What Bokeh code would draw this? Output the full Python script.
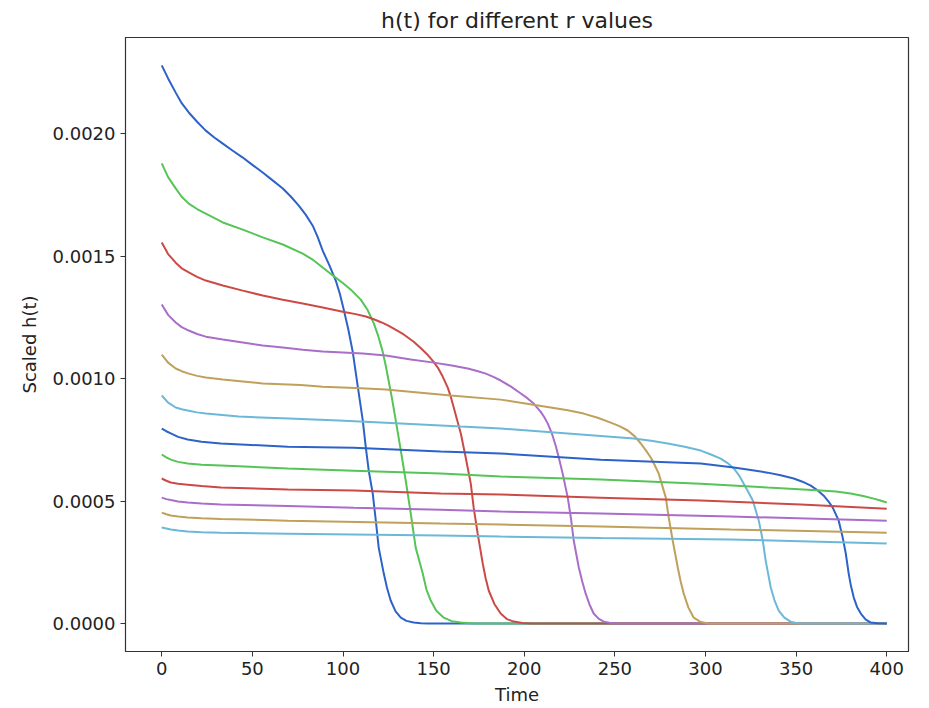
from bokeh.plotting import figure
from bokeh.models import Range1d, FixedTicker, PrintfTickFormatter
from bokeh.embed import file_html
from bokeh.resources import INLINE

# Curve data (time, scaled h)
t1 = [0, 3.5, 7.7, 11, 14.9, 19.5, 24.3, 29, 33.7, 39, 44.7, 50, 55.7, 61, 66.8, 71.3, 75.6, 79.5, 83.3, 86, 88.8, 92.5, 96.0, 98.3, 100.4, 103, 105.4, 108.1, 110.9, 112.6, 114.2, 116.4, 118.1, 119.7, 122.5, 124.3, 126.3, 129, 131.9, 135, 139.0, 143, 146.8, 400]
h1 = [0.002278, 0.002225, 0.002167, 0.002124, 0.002086, 0.002048, 0.002012, 0.001984, 0.001959, 0.001931, 0.001902, 0.001872, 0.001841, 0.001810, 0.001776, 0.001742, 0.001706, 0.001668, 0.001624, 0.001578, 0.001522, 0.001462, 0.001400, 0.001345, 0.001282, 0.001198, 0.001108, 0.000970, 0.000829, 0.000718, 0.000624, 0.000531, 0.000420, 0.000310, 0.000204, 0.000145, 0.000094, 0.000050, 0.000024, 0.000011, 0.000004, 0.000001, 0.0, 0.0]

t2 = [0, 3.5, 7.7, 11, 14.9, 19.5, 24.3, 33.7, 44.7, 55.7, 66.8, 77.8, 83.5, 88.8, 94, 99.9, 105, 109.8, 113.5, 117.0, 119.5, 121.9, 123.7, 125.2, 127.2, 129.1, 131.9, 134.6, 137.4, 140.1, 144.0, 146, 148.4, 151.5, 155.6, 160, 165.0, 172.1, 400]
h2 = [0.001878, 0.001822, 0.001776, 0.001742, 0.001714, 0.001692, 0.001673, 0.001637, 0.001608, 0.001576, 0.001547, 0.001510, 0.001484, 0.001453, 0.001423, 0.001390, 0.001358, 0.001322, 0.001281, 0.001225, 0.001172, 0.001110, 0.001048, 0.000990, 0.000912, 0.000829, 0.000706, 0.000584, 0.000449, 0.000310, 0.000204, 0.000140, 0.000094, 0.000052, 0.000024, 0.000010, 0.000004, 0.0, 0.0]

t3 = [0, 3.5, 7.7, 11, 14.9, 19.5, 24.3, 33.7, 44.7, 55.7, 66.8, 77.8, 88.8, 99.9, 107, 112.6, 117, 121, 124.5, 128.0, 133.5, 139.0, 143, 146.8, 149.8, 152.3, 155, 157.8, 159.5, 161.1, 163, 165.0, 167.7, 170.5, 172.1, 174.3, 177.1, 178.7, 180.4, 183.5, 187.0, 190.5, 194.2, 199, 203.6, 400]
h3 = [0.001555, 0.001508, 0.001473, 0.001450, 0.001433, 0.001415, 0.001400, 0.001380, 0.001359, 0.001339, 0.001322, 0.001306, 0.001290, 0.001273, 0.001263, 0.001253, 0.001242, 0.001230, 0.001218, 0.001204, 0.001180, 0.001150, 0.001124, 0.001096, 0.001070, 0.001045, 0.001008, 0.000963, 0.000925, 0.000882, 0.000830, 0.000776, 0.000678, 0.000571, 0.000473, 0.000367, 0.000245, 0.000185, 0.000135, 0.000080, 0.000041, 0.000018, 0.000008, 0.000002, 0.0, 0.0]

t4 = [0, 3.5, 7.7, 11, 14.9, 19.5, 24.3, 33.7, 44.7, 55.7, 66.8, 77.8, 88.8, 99.9, 110.9, 123.6, 137.4, 150.1, 160, 168.8, 174, 178.8, 183, 187.0, 192.5, 198.1, 201.7, 205.2, 209, 211, 213.0, 215.3, 217.4, 219.4, 221.2, 224.0, 225.7, 227.3, 230.1, 232, 233.9, 236, 238.3, 241, 243.9, 247, 250.5, 400]
h4 = [0.001302, 0.001260, 0.001229, 0.001210, 0.001196, 0.001182, 0.001171, 0.001159, 0.001147, 0.001135, 0.001127, 0.001118, 0.001110, 0.001106, 0.001102, 0.001094, 0.001078, 0.001065, 0.001053, 0.001041, 0.001031, 0.001020, 0.001007, 0.000992, 0.000968, 0.000939, 0.000920, 0.000898, 0.000865, 0.000843, 0.000816, 0.000775, 0.000725, 0.000668, 0.000612, 0.000514, 0.000433, 0.000339, 0.000229, 0.000172, 0.000122, 0.000078, 0.000041, 0.000020, 0.000008, 0.000003, 0.0, 0.0]

t5 = [0, 3.5, 7.7, 11, 14.9, 19.5, 24.3, 33.7, 44.7, 55.7, 76.7, 88.8, 107.0, 123.6, 159.4, 187.0, 214.6, 224, 232.8, 240.5, 247.7, 252.5, 257.1, 261, 264.3, 267.2, 269.8, 272, 274.2, 278.1, 279.7, 281.9, 284.7, 286.3, 288.0, 290.5, 293.5, 297, 301.2, 400]
h5 = [0.001098, 0.001065, 0.001041, 0.001030, 0.001020, 0.001011, 0.001004, 0.000996, 0.000988, 0.000980, 0.000974, 0.000967, 0.000961, 0.000955, 0.000931, 0.000914, 0.000882, 0.000871, 0.000857, 0.000840, 0.000820, 0.000806, 0.000788, 0.000764, 0.000735, 0.000706, 0.000678, 0.000646, 0.000612, 0.000514, 0.000433, 0.000339, 0.000229, 0.000172, 0.000122, 0.000066, 0.000024, 0.000008, 0.0, 0.0]

t6 = [0, 3.5, 7.7, 11, 14.9, 19.5, 24.3, 42.5, 70.1, 97.7, 123.6, 165.0, 187.0, 224.0, 260.4, 270, 279.2, 288.5, 297.4, 303, 308.4, 312.2, 315.6, 318.5, 321.1, 323.7, 326.1, 329.4, 331.6, 333.2, 336.0, 338, 340.4, 343.5, 347.0, 350, 352.6, 400]
h6 = [0.000931, 0.000902, 0.000882, 0.000875, 0.000869, 0.000862, 0.000857, 0.000845, 0.000837, 0.000829, 0.000820, 0.000804, 0.000796, 0.000776, 0.000755, 0.000746, 0.000735, 0.000722, 0.000706, 0.000690, 0.000673, 0.000655, 0.000633, 0.000605, 0.000571, 0.000536, 0.000502, 0.000420, 0.000339, 0.000257, 0.000147, 0.000096, 0.000053, 0.000024, 0.000008, 0.000002, 0.0, 0.0]

t7 = [0, 2.5, 5.0, 9, 14.3, 22, 32.6, 69.5, 105.9, 153.9, 187.0, 242.2, 297.4, 315.6, 325, 334.3, 341.5, 348.7, 353.5, 358.1, 361.8, 365.2, 367.8, 370.2, 373.5, 375.7, 377.4, 379.0, 380.3, 381.8, 383.6, 385.7, 388.3, 391.2, 395, 400]
h7 = [0.000796, 0.000785, 0.000776, 0.000762, 0.000751, 0.000742, 0.000735, 0.000722, 0.000718, 0.000702, 0.000694, 0.000669, 0.000653, 0.000637, 0.000627, 0.000616, 0.000605, 0.000592, 0.000579, 0.000563, 0.000544, 0.000522, 0.000499, 0.000473, 0.000420, 0.000351, 0.000286, 0.000204, 0.000152, 0.000106, 0.000068, 0.000041, 0.000017, 0.000004, 0.000001, 0.0]

t8 = [0, 2.5, 5.0, 9, 14.3, 22, 32.6, 69.5, 105.9, 153.9, 187.0, 242.2, 297.4, 334.3, 363.6, 372, 380.1, 387, 392.8, 396.5, 400]
h8 = [0.000690, 0.000678, 0.000669, 0.000660, 0.000653, 0.000648, 0.000645, 0.000633, 0.000624, 0.000612, 0.000600, 0.000588, 0.000571, 0.000555, 0.000543, 0.000539, 0.000531, 0.000521, 0.000510, 0.000502, 0.000494]

t9 = [0, 2.5, 5.0, 9, 14.3, 22, 32.6, 69.5, 105.9, 153.9, 187.0, 242.2, 297.4, 352.6, 400]
h9 = [0.000592, 0.000583, 0.000576, 0.000571, 0.000567, 0.000561, 0.000555, 0.000547, 0.000543, 0.000531, 0.000527, 0.000514, 0.000502, 0.000486, 0.000469]

t10 = [0, 2.5, 5.0, 9, 14.3, 22, 32.6, 69.5, 105.9, 153.9, 187.0, 242.2, 313.9, 400]
h10 = [0.000514, 0.000508, 0.000504, 0.000498, 0.000494, 0.000490, 0.000486, 0.000480, 0.000473, 0.000465, 0.000457, 0.000449, 0.000437, 0.000420]

t11 = [0, 2.5, 5.0, 9, 14.3, 22, 32.6, 69.5, 153.9, 187.0, 242.2, 313.9, 400]
h11 = [0.000453, 0.000446, 0.000441, 0.000437, 0.000433, 0.000430, 0.000427, 0.000420, 0.000408, 0.000404, 0.000396, 0.000384, 0.000371]

t12 = [0, 2.5, 5.0, 9, 14.3, 22, 32.6, 69.5, 153.9, 187.0, 242.2, 313.9, 400]
h12 = [0.000392, 0.000388, 0.000384, 0.000380, 0.000376, 0.000373, 0.000371, 0.000367, 0.000359, 0.000355, 0.000349, 0.000343, 0.000327]

times = [t1, t2, t3, t4, t5, t6, t7, t8, t9, t10, t11, t12]
values = [h1, h2, h3, h4, h5, h6, h7, h8, h9, h10, h11, h12]
palette = ["#2d63c8", "#56c456", "#cc4a46", "#a96ec8", "#bfa05c", "#6cb8d8"]

x_ticks = [0, 50, 100, 150, 200, 250, 300, 350, 400]
y_ticks = [0.0, 0.0005, 0.0010, 0.0015, 0.0020]

FONT = "DejaVu Sans"

p = figure(width=929, height=708, output_backend="svg", toolbar_location=None,
           title="h(t) for different r values",
           x_range=Range1d(-20, 412), y_range=Range1d(-0.000114, 0.002392),
           min_border_left=125, min_border_right=21, min_border_top=37, min_border_bottom=57)

for i, (tt, hh) in enumerate(zip(times, values)):
    p.line(tt, hh, line_color=palette[i % len(palette)], line_width=2)

p.title.align = "center"
p.title.text_font = FONT
p.title.text_font_size = "22px"
p.title.text_font_style = "normal"
p.title.text_color = "#222222"

p.xgrid.visible = False
p.ygrid.visible = False
p.outline_line_color = "#333333"
p.outline_line_width = 1.2

p.xaxis.ticker = FixedTicker(ticks=x_ticks)
p.yaxis.ticker = FixedTicker(ticks=y_ticks)
p.yaxis.formatter = PrintfTickFormatter(format="%.4f")
p.xaxis.axis_label = "Time"
p.yaxis.axis_label = "Scaled h(t)"

for ax in (p.xaxis[0], p.yaxis[0]):
    ax.axis_label_text_font = FONT
    ax.axis_label_text_font_size = "18px"
    ax.axis_label_text_font_style = "normal"
    ax.axis_label_text_color = "#222222"
    ax.major_label_text_font = FONT
    ax.major_label_text_font_size = "18px"
    ax.major_label_text_color = "#222222"
    ax.major_tick_in = 0
    ax.major_tick_out = 5
    ax.minor_tick_in = 0
    ax.minor_tick_out = 0
    ax.axis_line_color = "#333333"
    ax.major_tick_line_color = "#333333"

p.xaxis.axis_label_standoff = 6
p.yaxis.axis_label_standoff = 10

open("out.html", "w").write(file_html(p, INLINE))
